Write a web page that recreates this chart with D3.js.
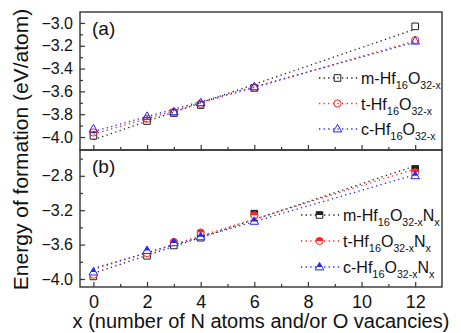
<!DOCTYPE html>
<html>
<head>
<meta charset="utf-8">
<script src="https://cdn.jsdelivr.net/npm/d3@7"></script>
<style>
  body { margin: 0; background: #fff; }
  svg { display: block; font-family: Arial, "Liberation Sans", sans-serif; }
</style>
</head>
<body>
<div id="chart"></div>
<script>
// x positions and energies
const xVals = [0, 2, 3, 4, 6, 12];

// panel (a): O vacancies only
const vacM = [-3.99, -3.86, -3.79, -3.72, -3.57, -3.03];
const vacT = [-3.96, -3.84, -3.78, -3.71, -3.57, -3.15];
const vacC = [-3.93, -3.82, -3.78, -3.70, -3.56, -3.16];

// panel (b): N doped
const nitM = [-3.97, -3.73, -3.61, -3.52, -3.24, -2.72];
const nitT = [-3.95, -3.70, -3.57, -3.46, -3.26, -2.76];
const nitC = [-3.92, -3.67, -3.58, -3.51, -3.33, -2.80];

const xTicks = [0, 2, 4, 6, 8, 10, 12];
const xMinor = [1, 3, 5, 7, 9, 11];
const yTicksA = [-4.0, -3.8, -3.6, -3.4, -3.2, -3.0];
const yMinorA = [-3.9, -3.7, -3.5, -3.3, -3.1];
const yTicksB = [-4.0, -3.6, -3.2, -2.8];
const yMinorB = [-3.8, -3.4, -3.0, -2.6];

const phases = ["m", "t", "c"];
const shapes = ["square", "circle", "triangle"];
const colors = ["#222", "#ff2525", "#2525ff"];

const width = 461;
const height = 333;
const left = 80, right = 442;
const topA = 12, mid = 150, botB = 287;

const svg = d3.select("#chart").append("svg")
    .attr("width", width)
    .attr("height", height);

// clip used for the half-filled markers of panel (b)
svg.append("defs").append("clipPath")
    .attr("id", "tophalf")
    .append("rect")
    .attr("x", -10).attr("y", -10).attr("width", 20).attr("height", 10);

const x = d3.scaleLinear().domain([-0.5, 13]).range([left, right]);
const yA = d3.scaleLinear().domain([-4.114, -2.904]).range([mid, topA]);
const yB = d3.scaleLinear().domain([-4.093, -2.50]).range([botB, mid]);

const fmt = d3.format(".1f");

function shapePath(shape) {
    if (shape === "square") return "M-3.3,-3.3H3.3V3.3H-3.3Z";
    if (shape === "circle") return "M-3.6,0A3.6,3.6 0 1,1 3.6,0A3.6,3.6 0 1,1 -3.6,0Z";
    return "M0,-4.6L4.3,2.9H-4.3Z";
}

function drawMarker(g, shape, cx, cy, color, half) {
    const m = g.append("g").attr("transform", `translate(${cx},${cy})`);
    m.append("path")
        .attr("d", shapePath(shape))
        .attr("fill", half ? "#fff" : "none")
        .attr("stroke", color)
        .attr("stroke-width", 1);
    if (half) {
        m.append("path")
            .attr("d", shapePath(shape))
            .attr("fill", color)
            .attr("clip-path", "url(#tophalf)");
    }
}

function fitLine(xs, ys) {
    const mx = d3.mean(xs), my = d3.mean(ys);
    let sxy = 0, sxx = 0;
    xs.forEach((v, i) => { sxy += (v - mx) * (ys[i] - my); sxx += (v - mx) * (v - mx); });
    const slope = sxy / sxx;
    const b = my - slope * mx;
    return [[0, b], [12, b + slope * 12]];
}

function drawPanel(y, series, yTicks, yMinor, half, showXLabels, label, legendX, legendRows, withN) {
    const g = svg.append("g");

    // y axis, ticks pointing inward
    g.append("g")
        .attr("transform", `translate(${left},0)`)
        .call(d3.axisLeft(y).tickValues(yTicks).tickFormat(fmt).tickSizeInner(-5).tickSizeOuter(0).tickPadding(7))
        .call(a => a.select(".domain").remove())
        .call(a => a.selectAll("text").attr("font-size", 16).attr("fill", "#111"));
    g.append("g")
        .attr("transform", `translate(${left},0)`)
        .call(d3.axisLeft(y).tickValues(yMinor).tickFormat("").tickSizeInner(-3).tickSizeOuter(0))
        .call(a => a.select(".domain").remove());

    // x axis at the bottom of the panel
    const yBottom = y.range()[0];
    g.append("g")
        .attr("transform", `translate(0,${yBottom})`)
        .call(d3.axisBottom(x).tickValues(xTicks).tickFormat(showXLabels ? d3.format("d") : "")
            .tickSizeInner(-5).tickSizeOuter(0).tickPadding(8))
        .call(a => a.select(".domain").remove())
        .call(a => a.selectAll("text").attr("font-size", 18).attr("fill", "#111"));
    g.append("g")
        .attr("transform", `translate(0,${yBottom})`)
        .call(d3.axisBottom(x).tickValues(xMinor).tickFormat("").tickSizeInner(-3).tickSizeOuter(0))
        .call(a => a.select(".domain").remove());

    g.selectAll(".tick line").attr("stroke", "#333").attr("stroke-width", 1.2);

    // frame
    g.append("rect")
        .attr("x", left).attr("y", y.range()[1])
        .attr("width", right - left).attr("height", y.range()[0] - y.range()[1])
        .attr("fill", "none").attr("stroke", "#333").attr("stroke-width", 1.4);

    // fitted dotted lines
    series.forEach((vals, i) => {
        const pts = fitLine(xVals, vals);
        g.append("line")
            .attr("x1", x(pts[0][0])).attr("y1", y(pts[0][1]))
            .attr("x2", x(pts[1][0])).attr("y2", y(pts[1][1]))
            .attr("stroke", colors[i]).attr("stroke-width", 1.3)
            .attr("stroke-dasharray", "1.3,3.3");
    });

    // markers
    series.forEach((vals, i) => {
        vals.forEach((v, j) => drawMarker(g, shapes[i], x(xVals[j]), y(v), colors[i], half));
    });

    // panel tag
    g.append("text")
        .attr("x", 92).attr("y", y.range()[1] + 23)
        .attr("font-size", 19).attr("fill", "#111")
        .text(label);

    // legend
    phases.forEach((p, i) => {
        const ry = legendRows[i];
        g.append("line")
            .attr("x1", legendX).attr("x2", legendX + 39)
            .attr("y1", ry).attr("y2", ry)
            .attr("stroke", colors[i]).attr("stroke-width", 1.3)
            .attr("stroke-dasharray", "1.3,3.3");
        drawMarker(g, shapes[i], legendX + 18.5, ry, colors[i], half);
        const t = g.append("text")
            .attr("x", legendX + 42).attr("y", ry + 6)
            .attr("font-size", 16).attr("fill", "#111");
        t.append("tspan").text(p + "-Hf");
        t.append("tspan").attr("font-size", 11).attr("dy", 5).text("16");
        t.append("tspan").attr("dy", -5).text("O");
        t.append("tspan").attr("font-size", 10.5).attr("dy", 5).text("32-x");
        if (withN) {
            t.append("tspan").attr("dy", -5).text("N");
            t.append("tspan").attr("font-size", 11).attr("dy", 5).text("x");
        }
    });
}

drawPanel(yA, [vacM, vacT, vacC], yTicksA, yMinorA, false, false, "(a)", 319, [78, 103.5, 129], false);
drawPanel(yB, [nitM, nitT, nitC], yTicksB, yMinorB, true, true, "(b)", 301, [215, 241, 267], true);

// axis titles
svg.append("text")
    .attr("transform", `translate(27.5,${(topA + botB) / 2}) rotate(-90)`)
    .attr("text-anchor", "middle")
    .attr("font-size", 21).attr("fill", "#111")
    .text("Energy of formation (eV/atom)");

svg.append("text")
    .attr("x", (left + right) / 2).attr("y", 328)
    .attr("text-anchor", "middle")
    .attr("font-size", 20).attr("fill", "#111")
    .text("x (number of N atoms and/or O vacancies)");
</script>
</body>
</html>
